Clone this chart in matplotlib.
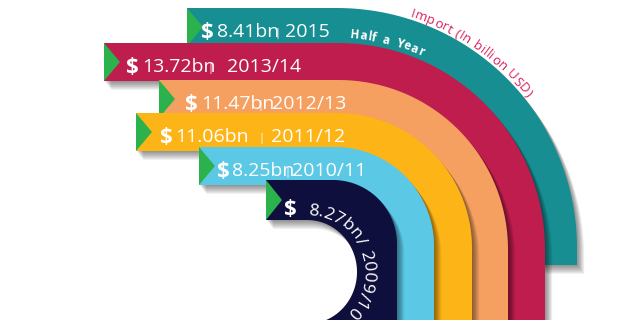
import numpy as np
import matplotlib
matplotlib.use("Agg")
import matplotlib.pyplot as plt
from matplotlib.patches import Polygon
from matplotlib.font_manager import FontProperties
from matplotlib.textpath import TextToPath

# ---- data (inner -> outer) ----
years = ["2009/10", "2010/11", "2011/12", "2012/13", "2013/14", "2015"]
values = [8.27, 8.25, 11.06, 11.47, 13.72, 8.41]
colors = ["#0F0F3E", "#5BC8E6", "#FDB416", "#F5A060", "#BE1D4E", "#178E92"]
title_text = "Import (In billion USD)"
sub_text = "Half a Year"

# ---- layout (pixels) ----
band_top = [180, 147, 113, 80, 43, 8]
band_right = [397, 434, 472, 508, 545, 577]
band_left = [266, 199, 136, 159, 104, 187]
band_bottom_y = [335, 335, 335, 335, 335, 265]
thick = 38
C = (337, 248)
hole_c, hole_a, hole_b = (307, 272), 50, 52
dollar_x = [284, 217, 160, 185, 126, 201]
value_x = [None, 232, 175, 201, 142, 217]
bar_x = [None, 287, 261, 260, 210, 277]
year_x = [None, 292, 271, 272, 227, 285]
GREEN = "#2BB24C"
FONT = "Open Sans"
DPI = 100

fig = plt.figure(figsize=(6.2, 3.2), dpi=DPI)
ax = fig.add_axes([0, 0, 1, 1])
ax.set_xlim(0, 620)
ax.set_ylim(320, 0)
ax.axis("off")


def arc(xc, yc, R, t0, t1, n=60):
    t = np.radians(np.linspace(t0, t1, n))
    return np.column_stack([xc + R * np.cos(t), yc - R * np.sin(t)])


def band_shape(i):
    top, right, left, ybot = band_top[i], band_right[i], band_left[i], band_bottom_y[i]
    R = ((right - C[0]) + (C[1] - top)) / 2
    xc, yc = right - R, top + R
    outer = np.vstack([[left, top], arc(xc, yc, R, 90, 0), [right, ybot]])
    if i == 0:
        ts = np.radians(np.linspace(-80, 90, 80))
        hole = np.column_stack([hole_c[0] + hole_a * np.cos(ts), hole_c[1] - hole_b * np.sin(ts)])
        inner = np.vstack([[hole[0][0], ybot], hole, [left, top + 40]])
    else:
        Ri = R - thick
        inner = np.vstack([[right - thick, ybot], arc(xc, yc, Ri, 0, 90), [left, top + thick]])
    return np.vstack([outer, inner]), (xc, yc, R)


order = list(range(len(values)))[::-1]  # outer first
for i in order:
    verts, _ = band_shape(i)
    for k in range(1, 10):
        ax.add_patch(Polygon(verts + np.array([0.8 * k, 1.0 * k]), closed=True,
                             facecolor="black", edgecolor="none", alpha=0.055, zorder=2 + (5 - i) * 2))
    ax.add_patch(Polygon(verts, closed=True, facecolor=colors[i], edgecolor="none",
                         zorder=3 + (5 - i) * 2))
    top, left = band_top[i], band_left[i]
    h = 40 if i == 0 else thick
    ax.add_patch(Polygon([[left, top], [left, top + h], [left + 16, top + h / 2]], closed=True,
                         facecolor=GREEN, edgecolor="none", zorder=3.5 + (5 - i) * 2))

ttp = TextToPath()


def _w(s, fp):
    return ttp.get_text_width_height_descent(s, fp, ismath=False)[0] * DPI / 72


def width(s, fp):
    if not s:
        return 0.0
    return _w("l" + s + "l", fp) - _w("ll", fp)


def curved_text(s, center, r_base, start_deg, size, weight, color, z=30, track=0.0, space=None):
    fp = FontProperties(family=FONT, size=size, weight=weight)
    pos = 0.0
    for ch in s:
        cw = space if (ch == " " and space is not None) else width(ch, fp)
        if ch != " ":
            th = np.radians(start_deg) - (pos + cw / 2) / r_base
            x = center[0] + r_base * np.cos(th)
            y = center[1] - r_base * np.sin(th)
            ax.text(x, y, ch, rotation=np.degrees(th) - 90, rotation_mode="anchor",
                    ha="center", va="baseline", fontproperties=fp, color=color, zorder=z)
        pos += cw + track


# straight band labels
for i in range(1, len(values)):
    base = band_top[i] + 29
    z = 40
    ax.text(dollar_x[i], base + 1, "$", fontsize=16, fontweight="bold", family=FONT,
            color="white", va="baseline", ha="left", zorder=z)
    ax.text(value_x[i], base, f"{values[i]:.2f}bn", fontsize=14, family=FONT,
            color="white", va="baseline", ha="left", zorder=z)
    ax.text(bar_x[i], base - 1, "|", fontsize=8, family=FONT,
            color="white", va="baseline", ha="center", zorder=z)
    ax.text(year_x[i], base, years[i], fontsize=14, family=FONT,
            color="white", va="baseline", ha="left", zorder=z)

# innermost band label
ax.text(dollar_x[0], 215, "$", fontsize=16, fontweight="bold", family=FONT,
        color="white", va="baseline", ha="left", zorder=40)
curved_text(f"{values[0]:.2f}bn/ {years[0]}", hole_c, 57, 89, 12.5, "normal", "white",
            z=40, space=6)

curved_text(sub_text, C, 210, 86.5, 8.5, "bold", "white", z=40, track=0.6, space=5)
curved_text(title_text, C, 242, 72.5, 9.5, "normal", "#D81E5B", z=40, track=0.3, space=4)

fig.savefig("out.png", dpi=DPI, facecolor="white")
